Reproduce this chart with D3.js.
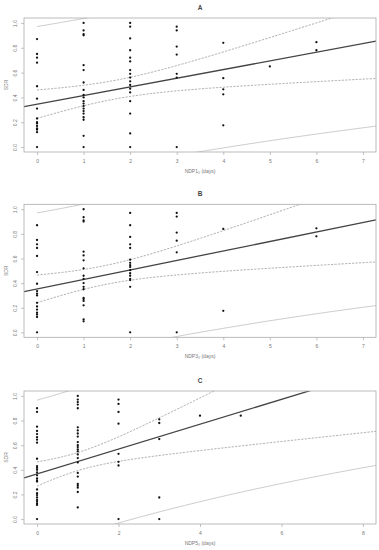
<!DOCTYPE html>
<html>
<head>
<meta charset="utf-8">
<script src="https://cdn.jsdelivr.net/npm/d3@7"></script>
<style>
  html, body { margin: 0; padding: 0; background: #fff; }
  svg { display: block; font-family: "Liberation Sans", Arial, sans-serif; }
</style>
</head>
<body>
<svg id="chart" width="379" height="550"></svg>
<script>
// ---- Data (SDR values grouped by number of days) ----
const daysA = [0, 1, 2, 3, 4, 5, 6];
const sdrA = [
  [0.87, 0.75, 0.72, 0.68, 0.49, 0.39, 0.31, 0.23, 0.2, 0.19, 0.17, 0.15, 0.14, 0.12, 0],
  [1.0, 0.94, 0.91, 0.9, 0.66, 0.62, 0.52, 0.46, 0.42, 0.4, 0.37, 0.35, 0.33, 0.31, 0.29, 0.27, 0.24, 0.22, 0.09, 0],
  [1.0, 0.97, 0.875, 0.78, 0.72, 0.69, 0.62, 0.59, 0.56, 0.53, 0.5, 0.47, 0.44, 0.37, 0.27, 0.11, 0],
  [0.97, 0.94, 0.81, 0.745, 0.59, 0.56, 0],
  [0.84, 0.555, 0.465, 0.425, 0.175],
  [0.65],
  [0.845, 0.78]
];

const daysB = [0, 1, 2, 3, 4, 6];
const sdrB = [
  [0.87, 0.75, 0.715, 0.685, 0.62, 0.49, 0.395, 0.335, 0.315, 0.30, 0.24, 0.21, 0.185, 0.16, 0.145, 0.125, 0],
  [1.0, 0.935, 0.91, 0.9, 0.655, 0.625, 0.585, 0.52, 0.46, 0.435, 0.40, 0.37, 0.35, 0.28, 0.27, 0.255, 0.22, 0.105, 0.09],
  [0.97, 0.87, 0.775, 0.715, 0.685, 0.59, 0.565, 0.545, 0.53, 0.505, 0.48, 0.46, 0.435, 0.425, 0.37, 0],
  [0.97, 0.94, 0.81, 0.745, 0.65, 0],
  [0.84, 0.175],
  [0.845, 0.78]
];

const daysC = [0, 1, 2, 3, 4, 5];
const sdrC = [
  [0.9, 0.87, 0.75, 0.715, 0.69, 0.665, 0.645, 0.62, 0.49, 0.43, 0.415, 0.40, 0.38, 0.355, 0.33, 0.315, 0.305, 0.24, 0.21, 0.195, 0.175, 0.155, 0.14, 0.125, 0.115, 0],
  [1.0, 0.97, 0.95, 0.93, 0.9, 0.745, 0.72, 0.695, 0.67, 0.625, 0.60, 0.585, 0.565, 0.55, 0.525, 0.495, 0.46, 0.375, 0.345, 0.285, 0.27, 0.255, 0.22, 0.095],
  [0.97, 0.935, 0.87, 0.775, 0.53, 0.465, 0.435, 0],
  [0.81, 0.78, 0.65, 0.175, 0],
  [0.84],
  [0.84]
];

// fitted regression: intercept, slope, residual SE
const fitIntercept = [0.3455, 0.353, 0.366];
const fitSlope = [0.0697, 0.077, 0.101];
const residualSE = [0.308, 0.303, 0.296];

const xTicksAB = [0, 1, 2, 3, 4, 5, 6, 7];
const xTicksC = [0, 2, 4, 6, 8];
const yTicks = [0, 0.2, 0.4, 0.6, 0.8, 1.0];
const titles = ["A", "B", "C"];
const xLabels = ["NDP1\u2080 (days)", "NDP3\u2080 (days)", "NDP5\u2080 (days)"];
const yLabel = "SDR";
const xLimits = [7, 7, 8];

// ---- Layout ----
const svg = d3.select("#chart");
const left = 24, right = 376;
const panelBoxes = [
  { top: 18, bottom: 152, titleY: 10 },
  { top: 204.3, bottom: 337.3, titleY: 196 },
  { top: 391, bottom: 524, titleY: 382.5 }
];
const panelData = [
  { days: daysA, sdr: sdrA, ticks: xTicksAB },
  { days: daysB, sdr: sdrB, ticks: xTicksAB },
  { days: daysC, sdr: sdrC, ticks: xTicksC }
];

function tQuant975(df) {
  const z = 1.959964;
  const g1 = (Math.pow(z, 3) + z) / 4;
  const g2 = (5 * Math.pow(z, 5) + 16 * Math.pow(z, 3) + 3 * z) / 96;
  const g3 = (3 * Math.pow(z, 7) + 19 * Math.pow(z, 5) + 17 * Math.pow(z, 3) - 15 * z) / 384;
  return z + g1 / df + g2 / (df * df) + g3 / (df * df * df);
}

panelData.forEach((pd, i) => {
  const box = panelBoxes[i];
  const xmax = xLimits[i];
  const pad = xmax * 0.04;
  const x = d3.scaleLinear().domain([-pad, xmax + pad]).range([left, right]);
  const y = d3.scaleLinear().domain([-0.04, 1.04]).range([box.bottom, box.top]);

  const pts = [];
  pd.days.forEach((d, k) => pd.sdr[k].forEach(v => pts.push({ x: d, y: v })));

  const n = pts.length;
  const xbar = d3.mean(pts, p => p.x);
  const Sxx = d3.sum(pts, p => (p.x - xbar) ** 2);
  const a = fitIntercept[i], b = fitSlope[i], s = residualSE[i];
  const tq = tQuant975(n - 2);

  const clipId = "clip" + i;
  svg.append("clipPath").attr("id", clipId)
    .append("rect").attr("x", left).attr("y", box.top)
    .attr("width", right - left).attr("height", box.bottom - box.top);

  const g = svg.append("g");
  const plot = g.append("g").attr("clip-path", `url(#${clipId})`);

  const grid = d3.range(0, xmax + pad + 1e-9, (xmax + pad) / 200);
  const band = (k, extra) => grid.map(xv => {
    const se = s * Math.sqrt(extra + 1 / n + (xv - xbar) ** 2 / Sxx);
    return [xv, a + b * xv + k * tq * se];
  });
  const line = d3.line().x(d => x(d[0])).y(d => y(d[1]));

  // prediction band
  [1, -1].forEach(k => plot.append("path").attr("d", line(band(k, 1)))
    .attr("fill", "none").attr("stroke", "#c4c4c4").attr("stroke-width", 0.9));
  // confidence band
  [1, -1].forEach(k => plot.append("path").attr("d", line(band(k, 0)))
    .attr("fill", "none").attr("stroke", "#999").attr("stroke-width", 0.8)
    .attr("stroke-dasharray", "2.2,1.3"));
  // fitted line
  const xd = x.domain();
  plot.append("path").attr("d", line([[xd[0], a + b * xd[0]], [xd[1], a + b * xd[1]]]))
    .attr("fill", "none").attr("stroke", "#444").attr("stroke-width", 1.3);

  // points
  plot.selectAll("circle").data(pts).join("circle")
    .attr("cx", d => x(d.x)).attr("cy", d => y(d.y)).attr("r", 1.15).attr("fill", "#111");

  // box
  g.append("rect").attr("x", left).attr("y", box.top)
    .attr("width", right - left).attr("height", box.bottom - box.top)
    .attr("fill", "none").attr("stroke", "#aaa").attr("stroke-width", 0.8);

  // x axis
  const xAxis = g.append("g").attr("transform", `translate(0,${box.bottom})`)
    .call(d3.axisBottom(x).tickValues(pd.ticks).tickFormat(d3.format("d")).tickSize(3).tickPadding(4));
  xAxis.select(".domain").remove();
  xAxis.selectAll("line").attr("stroke", "#aaa").attr("stroke-width", 0.7);
  xAxis.selectAll("text").attr("fill", "#777").style("font-size", "5px");

  // y axis
  const yAxis = g.append("g").attr("transform", `translate(${left},0)`)
    .call(d3.axisLeft(y).tickValues(yTicks).tickFormat(d3.format(".1f")).tickSize(3).tickPadding(0));
  yAxis.select(".domain").remove();
  yAxis.selectAll("line").attr("stroke", "#aaa").attr("stroke-width", 0.7);
  yAxis.selectAll("text").attr("fill", "#777").style("font-size", "5px")
    .attr("x", null).attr("dy", null)
    .attr("text-anchor", "middle")
    .attr("transform", "translate(-7,0) rotate(-90)");

  // labels
  g.append("text").attr("x", (left + right) / 2).attr("y", box.titleY)
    .attr("text-anchor", "middle").attr("fill", "#444")
    .style("font-size", "6.5px").style("font-weight", "bold").text(titles[i]);
  g.append("text").attr("x", (left + right) / 2).attr("y", box.bottom + 20.5)
    .attr("text-anchor", "middle").attr("fill", "#777")
    .style("font-size", "5px").text(xLabels[i]);
  g.append("text")
    .attr("transform", `translate(7.5,${(box.top + box.bottom) / 2}) rotate(-90)`)
    .attr("text-anchor", "middle").attr("fill", "#777")
    .style("font-size", "5px").text(yLabel);
});
</script>
</body>
</html>
